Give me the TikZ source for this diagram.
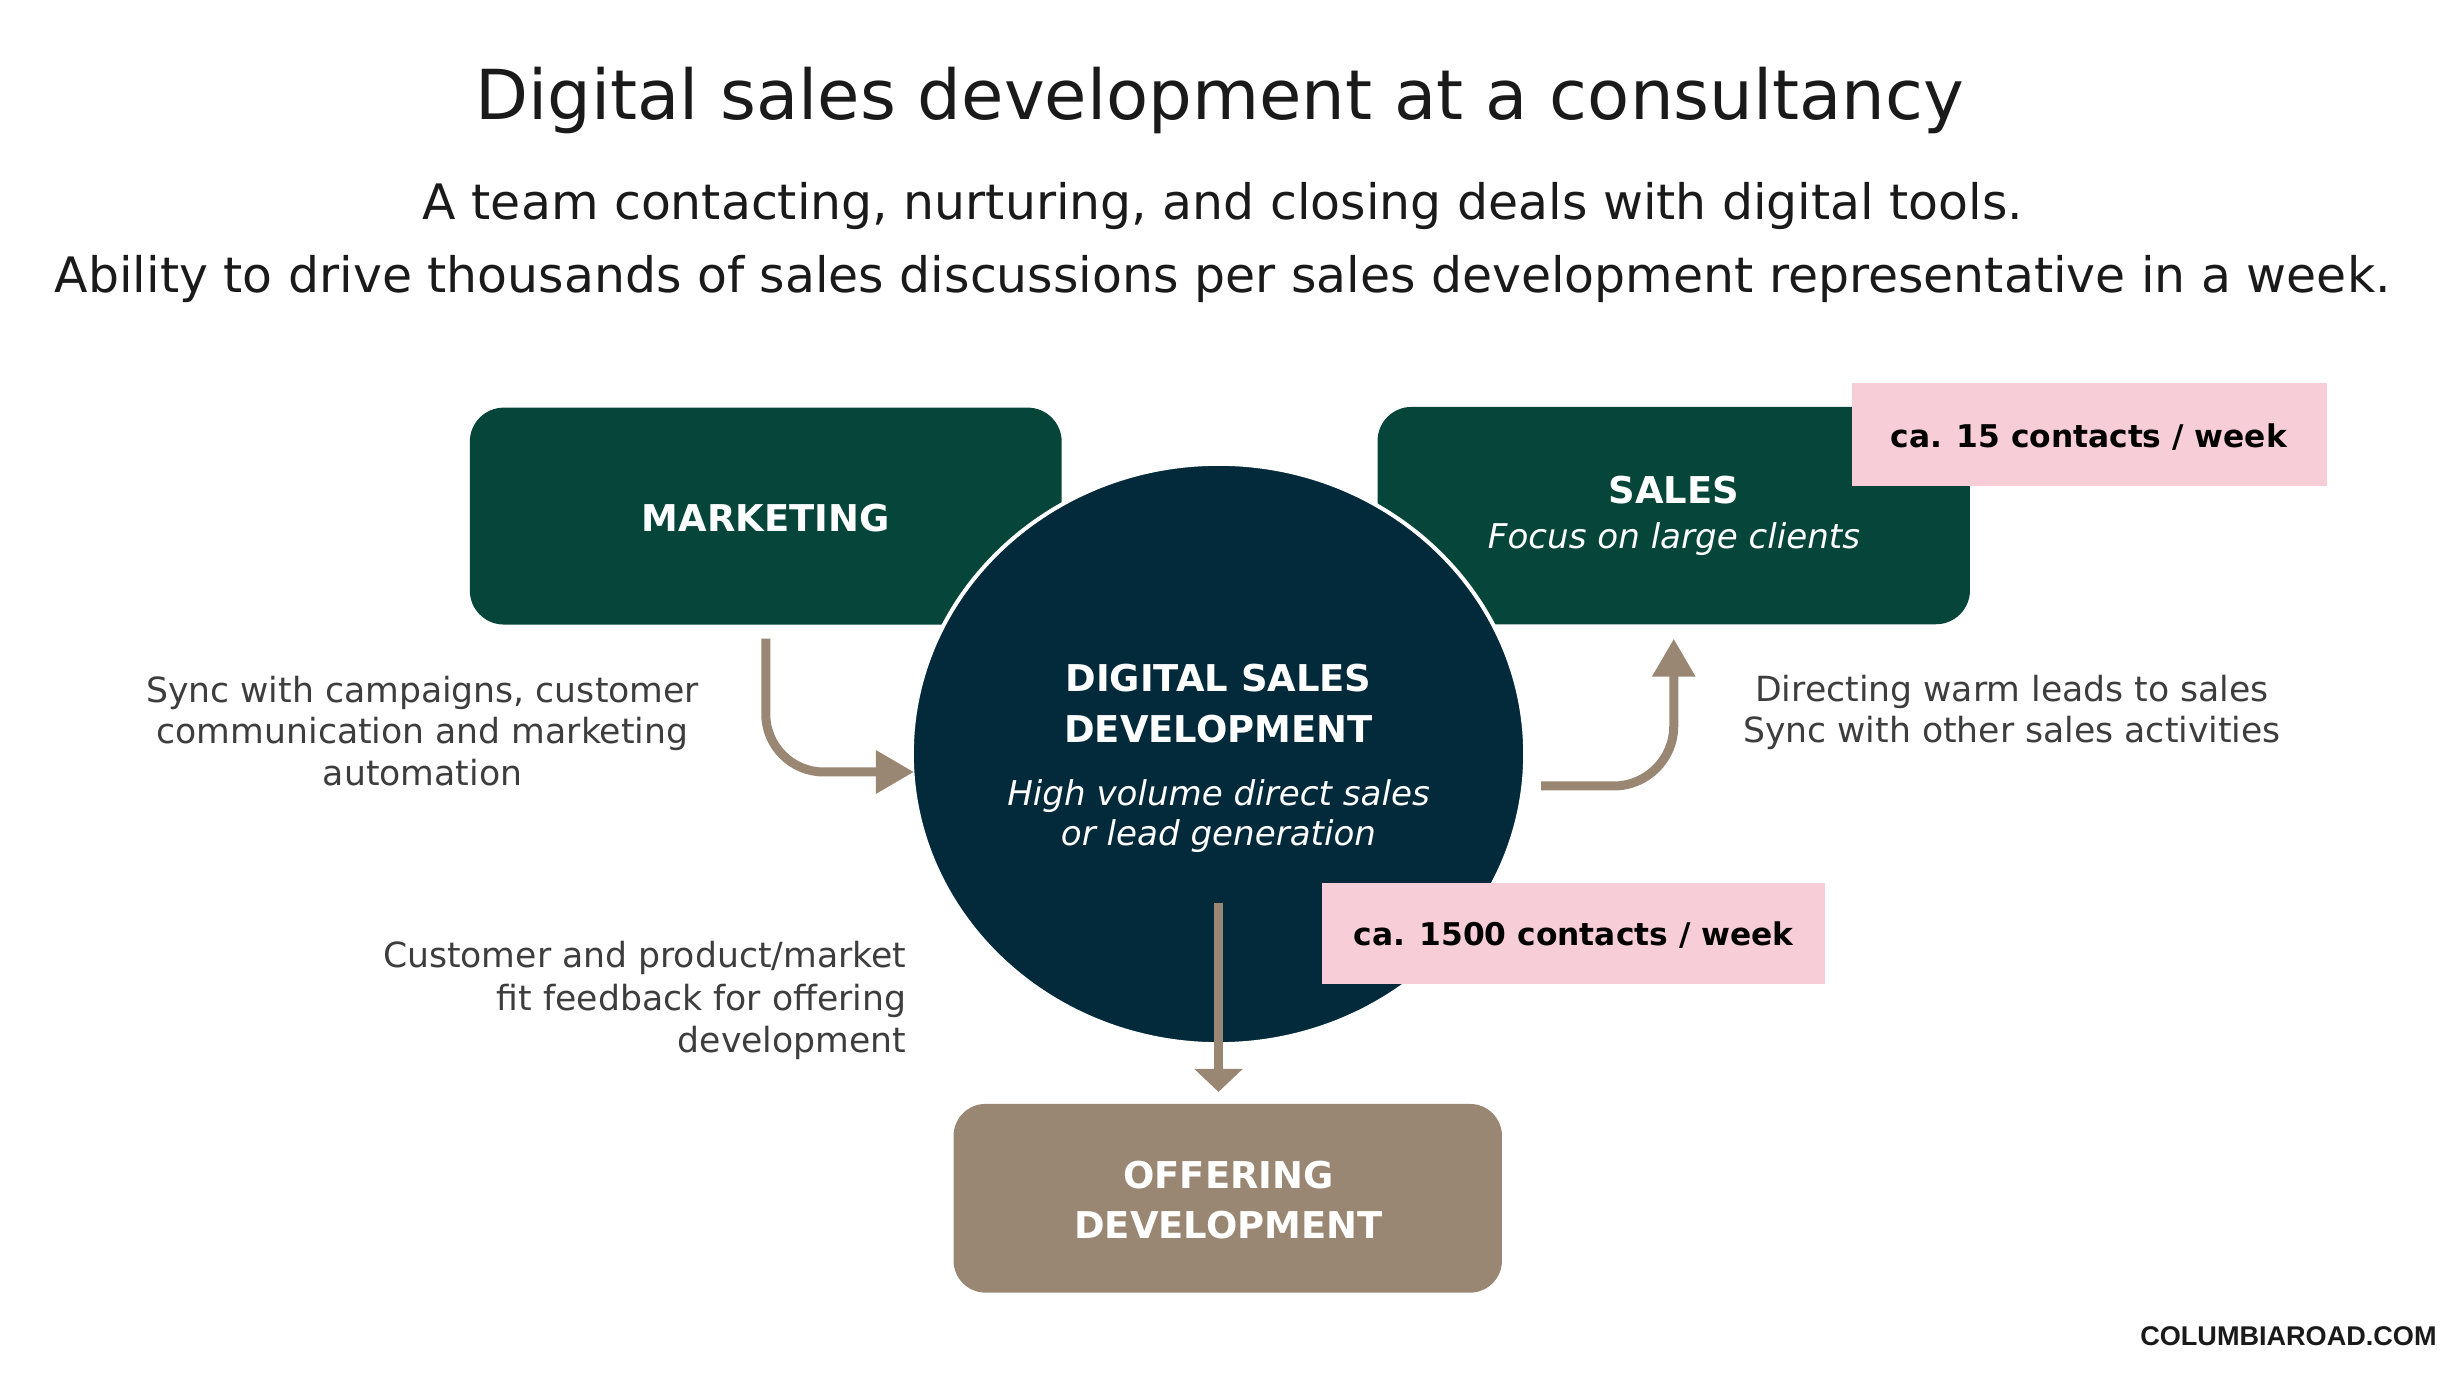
\documentclass[tikz,border=0pt]{standalone}
\usepackage{fontspec}
\setmainfont{DejaVu Sans}
\newfontfamily\footfont{Liberation Sans}
\usetikzlibrary{arrows.meta,shapes.geometric,calc}
\definecolor{dgreen}{HTML}{06463A}
\definecolor{navy}{HTML}{022A3B}
\definecolor{taupe}{HTML}{998773}
\definecolor{pinkbg}{HTML}{F7CDD7}
\definecolor{graytxt}{HTML}{3D3D3D}
\definecolor{titletxt}{HTML}{1A1A1A}
\begin{document}
\begin{tikzpicture}[x=0.01cm,y=-0.01cm,
  box/.style={rectangle, rounded corners=0.34cm, inner sep=0pt, outer sep=0pt},
  tag/.style={rectangle, fill=pinkbg, inner sep=0pt, outer sep=0pt},
  lbl/.style={anchor=base, inner sep=0pt, text=white, font=\bfseries\fontsize{10.5}{12}\selectfont},
  ital/.style={anchor=base, inner sep=0pt, text=white, font=\itshape\fontsize{9.7}{11}\selectfont},
  tagtxt/.style={anchor=base, inner sep=0pt, text=black, font=\bfseries\fontsize{8.9}{10}\selectfont},
  note/.style={anchor=base, inner sep=0pt, text=graytxt, font=\fontsize{9.85}{12}\selectfont},
  sub/.style={anchor=base, inner sep=0pt, text=titletxt, font=\fontsize{13.9}{16}\selectfont},
  conn/.style={draw=taupe, line width=0.09cm, -{Triangle[length=0.38cm,width=0.41cm]}},
  connd/.style={draw=taupe, line width=0.09cm, -{Triangle[length=0.23cm,width=0.47cm]}}
]
\useasboundingbox (0,0) rectangle (2463,1380);
\fill[white] (0,0) rectangle (2463,1380);

% title and subtitle
\node[anchor=base, inner sep=0pt, text=titletxt, font=\fontsize{19.6}{22}\selectfont] (title) at (1219.5,119.6) {Digital sales development at a consultancy};
\node[sub] (sub1) at (1223,219.6) {A team contacting, nurturing, and closing deals with digital tools.};
\node[sub] (sub2) at (1222.8,292.4) {Ability to drive thousands of sales discussions per sales development representative in a week.};

% boxes
\node[box, fill=dgreen, minimum width=5.915cm, minimum height=2.168cm] (marketing) at (765.75,516.1) {};
\node[box, fill=dgreen, minimum width=5.921cm, minimum height=2.172cm] (sales) at (1673.75,515.6) {};
\node[box, fill=taupe, rounded corners=0.32cm, minimum width=5.481cm, minimum height=1.886cm] (offering) at (1227.75,1198.3) {};

% circle
\node[ellipse, fill=navy, draw=white, line width=0.04cm, inner sep=0pt, outer sep=0pt, minimum width=6.13cm, minimum height=5.80cm] (dsd) at (1218.5,754) {};

% pink tags
\node[tag, minimum width=4.746cm, minimum height=1.022cm] (tag1) at (2089.1,434.6) {};
\node[tag, minimum width=5.024cm, minimum height=1.016cm] (tag2) at (1573.8,933.4) {};

% labels
\node[lbl] (mlbl) at (765.6,531.8) {MARKETING};
\node[lbl] (slbl) at (1674,503.5) {SALES};
\node[ital] (sfoc) at (1674,548.3) {Focus on large clients};
\node[lbl] (d1lbl) at (1218.5,692) {DIGITAL SALES};
\node[lbl] (d2lbl) at (1218.5,742.6) {DEVELOPMENT};
\node[ital] (d3lbl) at (1218.5,805.7) {High volume direct sales};
\node[ital] (d4lbl) at (1218.5,846) {or lead generation};
\node[lbl] (o1lbl) at (1228.5,1189) {OFFERING};
\node[lbl] (o2lbl) at (1228.5,1239) {DEVELOPMENT};
\node[tagtxt] (t1lbl) at (2088.7,447.8) {ca. 15 contacts / week};
\node[tagtxt] (t2lbl) at (1573.5,946) {ca. 1500 contacts / week};

% notes
\node[note] (n1a) at (422.5,702.5) {Sync with campaigns, customer};
\node[note] (n1b) at (422.5,744) {communication and marketing};
\node[note] (n1c) at (422.5,785.5) {automation};
\node[note, anchor=base east] (n2a) at (907,967.7) {Customer and product/market};
\node[note, anchor=base east] (n2b) at (907,1010.5) {fit feedback for offering};
\node[note, anchor=base east] (n2c) at (907,1053) {development};
\node[note] (n3a) at (2012,701.7) {Directing warm leads to sales};
\node[note] (n3b) at (2012,743) {Sync with other sales activities};

% footer
\node[anchor=base east, inner sep=0pt, text=titletxt, font=\footfont\bfseries\fontsize{7.7}{9}\selectfont] (foot) at (2437.3,1346) {COLUMBIAROAD.COM};

% connectors
\coordinate (m1) at ($(marketing.south)+(0,14)$);
\coordinate (m2) at ($(dsd.center)+(-304.5,18)$);
\draw[conn, rounded corners=0.58cm] (m1) |- (m2);
\coordinate (s1) at ($(dsd.center)+(322.5,32)$);
\coordinate (s2) at ($(sales.south)+(0,14.4)$);
\draw[conn, rounded corners=0.6cm] (s1) -| (s2);
\coordinate (dd1) at ($(dsd.center)+(0,149.5)$);
\coordinate (dd2) at ($(dd1 |- offering.north)+(0,-12)$);
\draw[connd] (dd1) -- (dd2);
\end{tikzpicture}
\end{document}
